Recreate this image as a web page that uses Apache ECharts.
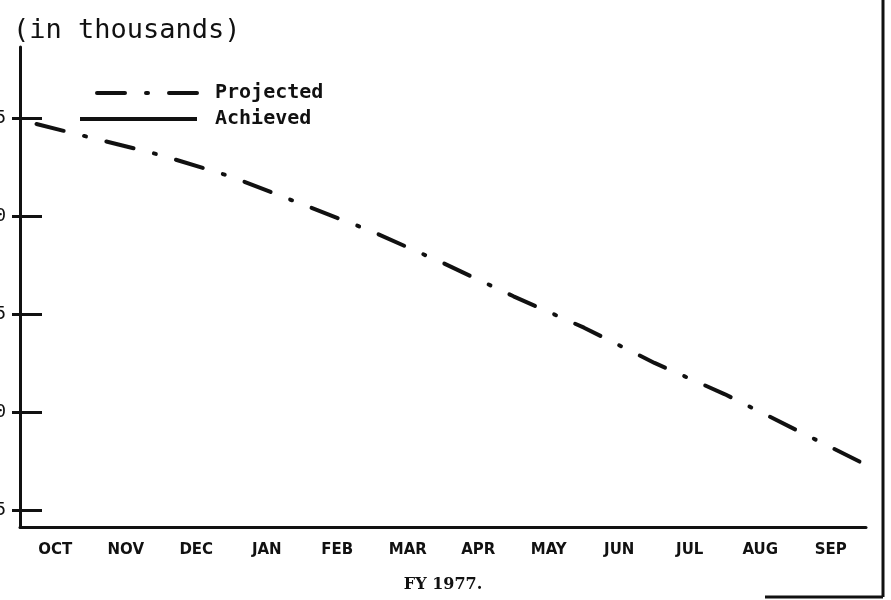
<!DOCTYPE html>
<html>
<head>
<meta charset="utf-8">
<script src="https://cdn.jsdelivr.net/npm/echarts@6/dist/echarts.min.js"></script>
<style>
  html, body { margin: 0; padding: 0; background: #fff; }
  #chart { width: 891px; height: 600px; }
</style>
</head>
<body>
<div id="chart"></div>
<script>
// 月份 (FY 1977)
var months = ['OCT', 'NOV', 'DEC', 'JAN', 'FEB', 'MAR', 'APR', 'MAY', 'JUN', 'JUL', 'AUG', 'SEP']
// 月份分界点 0..12, 对应投影线的点
var monthMarks = [0, 1, 2, 3, 4, 5, 6, 7, 8, 9, 10, 11, 12]
var projected = [44.9, 44.0, 43.1, 42.0, 40.6, 39.2, 37.6, 35.9, 34.3, 32.5, 30.9, 29.1, 27.3]
var achieved = []
// y轴刻度 (左边被裁掉, 只剩最后一位)
var yTicks = [25, 30, 35, 40, 45]

var ink = '#111'
var chart = echarts.init(document.getElementById('chart'))

var projectedData = monthMarks.map(function(m, i) { return [m, projected[i]] })

var option = {
  backgroundColor: '#fff',
  animation: false,
  title: {
    text: '(in thousands)',
    left: 8,
    top: 12,
    textStyle: {
      fontFamily: 'DejaVu Sans Mono',
      fontSize: 27,
      fontWeight: 'normal',
      color: ink
    }
  },
  legend: {
    orient: 'vertical',
    left: 73,
    top: 78,
    itemWidth: 117,
    itemHeight: 14,
    itemGap: 6,
    data: ['Projected', 'Achieved'],
    itemStyle: { opacity: 0, borderWidth: 0 },
    lineStyle: { width: 4 },
    textStyle: {
      fontFamily: 'DejaVu Sans Mono',
      fontSize: 20,
      fontWeight: 'bold',
      color: ink,
      padding: [0, 0, 0, 13]
    }
  },
  grid: { left: 20, right: 25, top: 47, bottom: 73, outerBoundsMode: 'none', containLabel: false },
  xAxis: [
    {
      type: 'category',
      data: months,
      boundaryGap: true,
      axisLine: { lineStyle: { color: ink, width: 3 } },
      axisTick: { inside: true, length: 10, lineStyle: { color: ink, width: 2 } },
      axisLabel: {
        margin: 16,
        color: ink,
        fontFamily: 'DejaVu Sans',
        fontWeight: 'bold',
        fontSize: 15
      },
      name: 'FY 1977.',
      nameLocation: 'middle',
      nameGap: 50,
      nameTextStyle: {
        color: ink,
        fontFamily: 'DejaVu Serif',
        fontWeight: 'bold',
        fontSize: 16
      }
    },
    {
      type: 'value',
      min: 0,
      max: 12,
      show: false
    }
  ],
  yAxis: [
    {
      type: 'value',
      min: 24.13,
      max: 48.62,
      splitLine: { show: false },
      axisLine: { show: true, lineStyle: { color: ink, width: 3 } },
      axisTick: {
        length: 8,
        customValues: yTicks,
        lineStyle: { color: ink, width: 3 }
      },
      axisLabel: {
        margin: 14,
        customValues: yTicks,
        color: ink,
        fontFamily: 'DejaVu Sans Mono',
        fontSize: 18
      }
    },
    {
      type: 'value',
      min: 24.13,
      max: 48.62,
      position: 'left',
      splitLine: { show: false },
      axisLine: { show: false },
      axisLabel: { show: false },
      axisTick: {
        inside: true,
        length: 22,
        customValues: yTicks,
        lineStyle: { color: ink, width: 3 }
      }
    }
  ],
  series: [
    {
      name: 'Projected',
      type: 'line',
      xAxisIndex: 1,
      yAxisIndex: 0,
      symbol: 'none',
      data: projectedData,
      lineStyle: {
        color: ink,
        width: 4,
        type: [28, 21, 2, 21],
        dashOffset: 55,
        cap: 'round'
      },
      itemStyle: { color: ink }
    },
    {
      name: 'Achieved',
      type: 'line',
      xAxisIndex: 1,
      yAxisIndex: 0,
      symbol: 'none',
      data: achieved,
      lineStyle: { color: ink, width: 4 },
      itemStyle: { color: ink }
    }
  ],
  // 右边和底部的纸边框
  graphic: [
    {
      type: 'line',
      shape: { x1: 883, y1: 0, x2: 883, y2: 597 },
      style: { stroke: ink, lineWidth: 3 }
    },
    {
      type: 'line',
      shape: { x1: 765, y1: 597, x2: 883, y2: 597 },
      style: { stroke: ink, lineWidth: 3 }
    }
  ]
}

chart.setOption(option)
</script>
</body>
</html>
